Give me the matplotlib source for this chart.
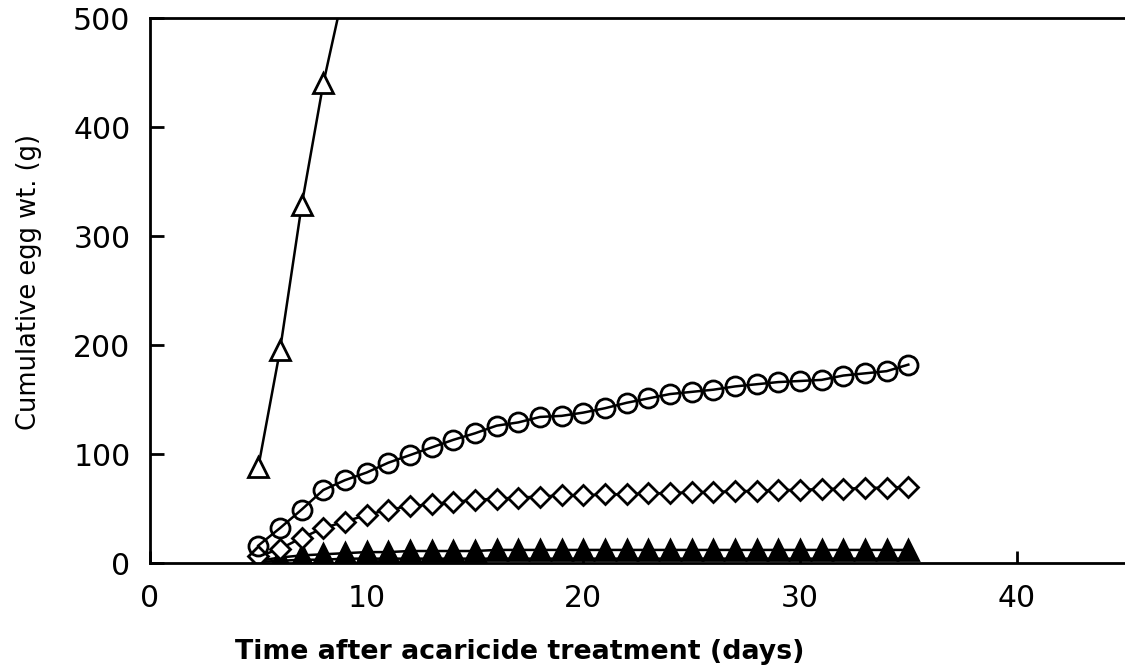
import numpy as np
import matplotlib
matplotlib.use("Agg")
import matplotlib.pyplot as plt

# days after treatment
days_a = [5, 6, 7, 8, 9]
days = list(range(5, 36))

# cumulative egg weight (g) per treatment
open_tri = [88, 195, 328, 440, 530]
circles = [16, 32, 49, 67, 76, 83, 92, 99, 106, 113, 119, 126, 129, 134, 135, 138,
           142, 147, 151, 155, 157, 159, 162, 164, 166, 167, 168, 172, 174, 176, 182]
diamonds = [6, 13, 23, 32, 38, 44, 49, 52, 54, 56, 58, 59, 60, 61, 62, 62,
            63, 63, 64, 64, 65, 65, 66, 66, 67, 67, 68, 68, 69, 69, 70]
filled_tri = [2, 5, 7, 8, 9, 10, 10, 11, 11, 11, 11, 12, 12, 12, 12, 12,
              12, 12, 12, 12, 12, 12, 12, 12, 12, 12, 12, 12, 12, 12, 12]
low_line = [1, 2, 3, 3, 4, 4, 4, 4, 4, 4, 4, 4, 4, 4, 4, 4,
            4, 4, 4, 4, 4, 4, 4, 4, 4, 4, 4, 4, 4, 4, 4]

plt.rcParams['font.family'] = ['DejaVu Sans']

fig = plt.figure(figsize=(11.25, 6.7), dpi=100)
ax = fig.add_axes([0.1333, 0.1597, 0.8667, 0.8134])

ms = 14
mew = 2.0
lw = 1.8
ax.plot(days, low_line, color='black', lw=lw)
ax.plot(days, filled_tri, color='black', lw=lw, marker='^', ms=ms,
        mfc='black', mec='black', mew=mew)
ax.plot(days, diamonds, color='black', lw=lw, marker='D', ms=ms * 0.75,
        mfc='white', mec='black', mew=mew)
ax.plot(days, circles, color='black', lw=lw, marker='o', ms=ms * 0.98,
        mfc='none', mec='black', mew=mew)
ax.plot(days_a, open_tri, color='black', lw=lw, marker='^', ms=ms,
        mfc='white', mec='black', mew=mew)

ax.set_xlim(0, 45)
ax.set_ylim(0, 500)
ax.set_xticks([0, 10, 20, 30, 40])
ax.set_yticks([0, 100, 200, 300, 400, 500])

for side in ['left', 'bottom', 'top']:
    ax.spines[side].set_linewidth(2)
ax.spines['right'].set_visible(False)

ax.tick_params(axis='y', direction='in', length=10, width=2, pad=14,
               labelsize=21.5)
ax.tick_params(axis='x', direction='in', length=9, width=2, pad=15,
               labelsize=21.5)

ax.set_xlabel("Time after acaricide treatment (days)", fontsize=19.3,
              fontweight='bold')
ax.xaxis.set_label_coords(0.379, -0.14)
ax.set_ylabel("Cumulative egg wt. (g)", fontsize=18.5)
ax.yaxis.set_label_coords(-0.111, 0.516)

fig.savefig("out.png", dpi=100)
